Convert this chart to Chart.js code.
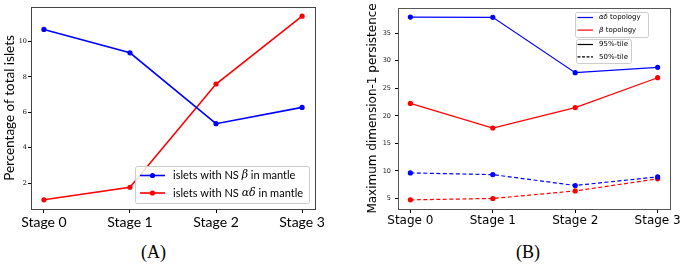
<!DOCTYPE html>
<html><head><meta charset="utf-8">
<script src="https://cdn.jsdelivr.net/npm/chart.js@4/dist/chart.umd.min.js"></script>
<style>
html,body{margin:0;padding:0;background:#fff;width:683px;height:268px;overflow:hidden}
canvas{position:absolute;top:0}
#ca{left:0}#cb{left:341px}
.cap{position:absolute;top:242px;font-family:"Liberation Serif","DejaVu Serif",serif;font-size:18px;color:#000}
</style></head><body>
<canvas id="ca" width="341" height="232"></canvas>
<canvas id="cb" width="342" height="232"></canvas>
<div class="cap" style="left:141px">(A)</div>
<div class="cap" style="left:516px">(B)</div>
<script>
// ---- data ----
const stages = ['Stage 0', 'Stage 1', 'Stage 2', 'Stage 3'];
const nsBetaLabel = 'islets with NS β in mantle';
const nsAlphaDeltaLabel = 'islets with NS αδ in mantle';
const nsBeta = [10.68, 9.36, 5.36, 6.28];
const nsAlphaDelta = [1.06, 1.77, 7.60, 11.43];
const leftTicks = [2, 4, 6, 8, 10];

const topoLabels = ['αδ topology', 'β topology'];
const tileLabels = ['95%-tile', '50%-tile'];
const alphaDelta95 = [37.93, 37.88, 27.84, 28.80];
const beta95 = [22.25, 17.79, 21.50, 26.92];
const alphaDelta50 = [9.64, 9.33, 7.36, 8.92];
const beta50 = [4.75, 5.00, 6.37, 8.56];
const rightTicks = [5, 10, 15, 20, 25, 30, 35];

// ---- helpers ----
const BLUE = '#0000ff', RED = '#ff0000';
const pts = arr => arr.map((v, i) => ({x: i, y: v}));
function padRange(arrs) {
  const all = arrs.flat();
  const lo = Math.min(...all), hi = Math.max(...all), r = hi - lo;
  return {min: lo - 0.05 * r, max: hi + 0.05 * r};
}
function richText(ctx, text, x, y, size, family, greekFamily) {
  const parts = text.split(/([α-ωΑ-Ω]+)/);
  let cx = x;
  for (const p of parts) {
    if (!p) continue;
    const greek = /[α-ωΑ-Ω]/.test(p);
    ctx.font = (greek ? 'italic ' : '') + size + 'px ' + (greek ? greekFamily : family);
    ctx.fillText(p, cx, y);
    cx += ctx.measureText(p).width;
  }
}
const framePlugin = {
  id: 'frame',
  afterDatasetsDraw(chart, args, o) {
    const {ctx, chartArea: a} = chart;
    ctx.save();
    ctx.strokeStyle = o.color; ctx.lineWidth = 1;
    ctx.strokeRect(Math.round(a.left) + 0.5, Math.round(a.top) + 0.5,
      Math.round(a.right - a.left), Math.round(a.bottom - a.top));
    ctx.restore();
  }
};
const legendPlugin = {
  id: 'boxLegend',
  afterDraw(chart, args, o) {
    const ctx = chart.ctx;
    ctx.save();
    for (const b of o.boxes || []) {
      ctx.beginPath();
      if (ctx.roundRect) ctx.roundRect(b.x + 0.5, b.y + 0.5, b.w, b.h, 2); else ctx.rect(b.x + 0.5, b.y + 0.5, b.w, b.h);
      ctx.fillStyle = 'rgba(255,255,255,0.85)'; ctx.fill();
      ctx.strokeStyle = '#cccccc'; ctx.lineWidth = 1; ctx.stroke();
      b.items.forEach((it, i) => {
        const y = b.y + b.first + i * b.gap;
        ctx.strokeStyle = it.color; ctx.lineWidth = b.lw;
        ctx.setLineDash(it.dash || []);
        ctx.beginPath(); ctx.moveTo(b.x + b.l0, y); ctx.lineTo(b.x + b.l1, y); ctx.stroke();
        ctx.setLineDash([]);
        if (b.marker) {
          ctx.fillStyle = it.color; ctx.beginPath();
          ctx.arc(b.x + (b.l0 + b.l1) / 2, y, b.marker, 0, Math.PI * 2); ctx.fill();
        }
        ctx.fillStyle = '#000'; ctx.textBaseline = 'middle';
        richText(ctx, it.label, b.x + b.tx, y, b.fs, b.ff, b.gf);
      });
    }
    ctx.restore();
  }
};
function xScale(fontSpec, pad) {
  return {
    type: 'linear', min: -0.15, max: stages.length - 1 + 0.15,
    afterBuildTicks: s => { s.ticks = stages.map((_, i) => ({value: i})); },
    ticks: {callback: v => stages[v], font: fontSpec, color: '#000', padding: pad, maxRotation: 0, autoSkip: false},
    grid: {display: true, drawOnChartArea: false, tickLength: 4, color: '#000'},
    border: {display: false},
    afterFit: s => { s.height = 23; }
  };
}

// ---- chart A ----
const rA = padRange([nsBeta, nsAlphaDelta]);
new Chart(document.getElementById('ca'), {
  type: 'line',
  data: {datasets: [
    {label: nsBetaLabel, data: pts(nsBeta), borderColor: BLUE, backgroundColor: BLUE, borderWidth: 1.6, pointRadius: 2.6, pointBorderWidth: 0},
    {label: nsAlphaDeltaLabel, data: pts(nsAlphaDelta), borderColor: RED, backgroundColor: RED, borderWidth: 1.6, pointRadius: 2.6, pointBorderWidth: 0}
  ]},
  options: {
    responsive: false, animation: false, events: [],
    layout: {padding: {left: 0, right: 26, top: 7, bottom: 0}},
    plugins: {legend: {display: false}, tooltip: {enabled: false},
      frame: {color: '#444'},
      boxLegend: {boxes: [{x: 135, y: 166, w: 174, h: 37, first: 9.5, gap: 17.5, l0: 5, l1: 30, lw: 1.6, marker: 2.6, tx: 38, fs: 11, ff: 'Lato', gf: '"DejaVu Serif"',
        items: [{label: nsBetaLabel, color: BLUE}, {label: nsAlphaDeltaLabel, color: RED}]}]}},
    scales: {
      x: xScale({family: 'Lato', size: 14}, 1),
      y: {
        min: rA.min, max: rA.max,
        afterBuildTicks: s => { s.ticks = leftTicks.map(v => ({value: v})); },
        ticks: {font: {family: '"DejaVu Serif"', size: 6.5}, color: '#000', padding: 1},
        grid: {display: true, drawOnChartArea: false, tickLength: 3, color: '#000'},
        border: {display: false},
        title: {display: true, text: 'Percentage of total islets', font: {family: 'Lato', size: 13.5}, color: '#000', padding: {top: 2, bottom: 0}},
        afterFit: s => { s.width = 31; }
      }
    }
  },
  plugins: [framePlugin, legendPlugin]
});

// ---- chart B ----
const rB = padRange([alphaDelta95, beta95, alphaDelta50, beta50]);
const dash = [4, 2.5];
new Chart(document.getElementById('cb'), {
  type: 'line',
  data: {datasets: [
    {label: topoLabels[0] + ' ' + tileLabels[0], data: pts(alphaDelta95), borderColor: BLUE, backgroundColor: BLUE, borderWidth: 1.2, pointRadius: 2.6, pointBorderWidth: 0},
    {label: topoLabels[1] + ' ' + tileLabels[0], data: pts(beta95), borderColor: RED, backgroundColor: RED, borderWidth: 1.2, pointRadius: 2.6, pointBorderWidth: 0},
    {label: topoLabels[0] + ' ' + tileLabels[1], data: pts(alphaDelta50), borderColor: BLUE, backgroundColor: BLUE, borderWidth: 1.2, borderDash: dash, pointRadius: 2.6, pointBorderWidth: 0},
    {label: topoLabels[1] + ' ' + tileLabels[1], data: pts(beta50), borderColor: RED, backgroundColor: RED, borderWidth: 1.2, borderDash: dash, pointRadius: 2.6, pointBorderWidth: 0}
  ]},
  options: {
    responsive: false, animation: false, events: [],
    layout: {padding: {left: 0, right: 13, top: 7, bottom: 0}},
    plugins: {legend: {display: false}, tooltip: {enabled: false},
      frame: {color: '#555'},
      boxLegend: {boxes: [
        {x: 234, y: 12, w: 73, h: 25, first: 5.5, gap: 12.6, l0: 2.5, l1: 18, lw: 1.2, marker: 0, tx: 24, fs: 7, ff: '"DejaVu Sans"', gf: '"DejaVu Sans"',
          items: [{label: topoLabels[0], color: BLUE}, {label: topoLabels[1], color: RED}]},
        {x: 235, y: 39, w: 55, h: 24, first: 5.5, gap: 12.4, l0: 1.5, l1: 17, lw: 1.2, marker: 0, tx: 23, fs: 7, ff: '"DejaVu Sans"', gf: '"DejaVu Sans"',
          items: [{label: tileLabels[0], color: '#000'}, {label: tileLabels[1], color: '#000', dash: [3, 1.5]}]}
      ]}},
    scales: {
      x: xScale({family: '"DejaVu Sans"', size: 12}, 1),
      y: {
        min: rB.min, max: rB.max,
        afterBuildTicks: s => { s.ticks = rightTicks.map(v => ({value: v})); },
        ticks: {font: {family: '"DejaVu Sans"', size: 6.5}, color: '#222', padding: 4},
        grid: {display: true, drawOnChartArea: false, tickLength: 3, color: '#000'},
        border: {display: false},
        title: {display: true, text: 'Maximum dimension-1 persistence', font: {family: '"DejaVu Sans"', size: 12}, color: '#000', padding: {top: 25, bottom: 0}},
        afterFit: s => { s.width = 57; }
      }
    }
  },
  plugins: [framePlugin, legendPlugin]
});
</script>
</body></html>
